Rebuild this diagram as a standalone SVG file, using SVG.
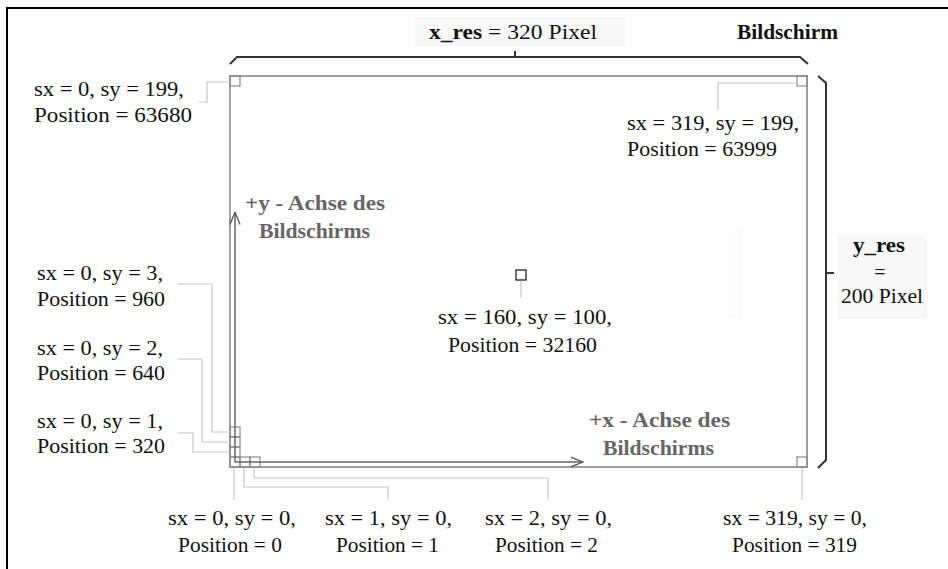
<svg xmlns="http://www.w3.org/2000/svg" width="948" height="569" viewBox="0 0 948 569">
<defs>
<style>
text{font-family:"Liberation Serif","Times New Roman",serif;font-size:20px;fill:#111}
.b{font-weight:bold}
.ax{font-weight:bold;fill:#666}
.lead{fill:none;stroke:#c8c8c8;stroke-width:1.2}
.cell{fill:none;stroke:#8a8a8a;stroke-width:1.2}
.brace{fill:none;stroke:#333;stroke-width:2}
.axis{fill:none;stroke:#666;stroke-width:1.5}
.box{fill:#f8f8f8}
</style>
<marker id="open" markerUnits="userSpaceOnUse" viewBox="0 0 13 12" markerWidth="13" markerHeight="12" refX="12.5" refY="6" orient="auto">
<path d="M0,1 L12.5,6 L0,11" fill="none" stroke="#555" stroke-width="1.3"/>
</marker>
</defs>
<rect x="0" y="0" width="948" height="569" fill="#fff"/>
<path d="M7,569 V8 H948" fill="none" stroke="#000" stroke-width="2"/>

<g id="screen">
<rect x="728" y="229" width="14" height="89" fill="#fcfcfc"/>
<rect x="230" y="76" width="577" height="391" fill="none" stroke="#a0a0a0" stroke-width="2"/>
<rect class="cell" x="230" y="76" width="10" height="10"/>
<rect class="cell" x="797" y="76" width="10" height="10"/>
<rect class="cell" x="797" y="457" width="10" height="10"/>
<rect class="cell" x="230" y="427" width="10" height="10"/>
<rect class="cell" x="230" y="437" width="10" height="10"/>
<rect class="cell" x="230" y="447" width="10" height="10"/>
<rect class="cell" x="230" y="457" width="10" height="10"/>
<rect class="cell" x="240" y="457" width="10" height="10"/>
<rect class="cell" x="250" y="457" width="10" height="10"/>
<rect x="516" y="270" width="10" height="10" fill="none" stroke="#222" stroke-width="1.3"/>
</g>

<g id="connectors">
<path class="brace" d="M230,64 L237,57 H800 L808,64 M515,57 V51"/>
<path class="brace" d="M818,76 L826,83 V460 L818,468 M826,273 H834"/>
<line class="axis" x1="235" y1="462" x2="235" y2="212" marker-end="url(#open)"/>
<line class="axis" x1="235" y1="462" x2="583" y2="462" marker-end="url(#open)"/>
<path class="lead" d="M199,102 H207 V82 H230"/>
<path class="lead" d="M718,110 V83 H797"/>
<path class="lead" d="M521,281 V298"/>
<path class="lead" d="M178,284 H212 V432 H230"/>
<path class="lead" d="M178,359 H202 V442 H230"/>
<path class="lead" d="M178,433 H193 V452 H230"/>
<path class="lead" d="M234,468 V500"/>
<path class="lead" d="M244,468 V487 H388 V500"/>
<path class="lead" d="M254,468 V478 H548 V500"/>
<path class="lead" d="M802,468 V500"/>
</g>

<g id="xres">
<rect class="box" x="415" y="17" width="210" height="29"/>
<text x="429" y="39" textLength="168" lengthAdjust="spacingAndGlyphs"><tspan class="b">x_res</tspan> = 320 Pixel</text>
</g>
<g id="title">
<text class="b" x="737" y="39" textLength="101" lengthAdjust="spacingAndGlyphs">Bildschirm</text>
</g>
<g id="yres">
<rect class="box" x="838" y="235" width="89" height="84"/>
<text class="b" x="879" y="252" text-anchor="middle" textLength="52" lengthAdjust="spacingAndGlyphs">y_res</text>
<text x="880" y="279" text-anchor="middle">=</text>
<text x="882" y="303" text-anchor="middle" textLength="82" lengthAdjust="spacingAndGlyphs">200 Pixel</text>
</g>

<g id="p-0-199">
<text x="34" y="96" textLength="150" lengthAdjust="spacingAndGlyphs">sx = 0, sy = 199,</text>
<text x="34" y="122" textLength="158" lengthAdjust="spacingAndGlyphs">Position = 63680</text>
</g>
<g id="p-319-199">
<text x="627" y="130" textLength="172" lengthAdjust="spacingAndGlyphs">sx = 319, sy = 199,</text>
<text x="627" y="156" textLength="150" lengthAdjust="spacingAndGlyphs">Position = 63999</text>
</g>
<g id="p-160-100">
<text x="438" y="324" textLength="174" lengthAdjust="spacingAndGlyphs">sx = 160, sy = 100,</text>
<text x="448" y="352" textLength="149" lengthAdjust="spacingAndGlyphs">Position = 32160</text>
</g>
<g id="p-0-3">
<text x="37" y="280" textLength="126" lengthAdjust="spacingAndGlyphs">sx = 0, sy = 3,</text>
<text x="37" y="306" textLength="128" lengthAdjust="spacingAndGlyphs">Position = 960</text>
</g>
<g id="p-0-2">
<text x="37" y="355" textLength="126" lengthAdjust="spacingAndGlyphs">sx = 0, sy = 2,</text>
<text x="37" y="380" textLength="128" lengthAdjust="spacingAndGlyphs">Position = 640</text>
</g>
<g id="p-0-1">
<text x="37" y="428" textLength="126" lengthAdjust="spacingAndGlyphs">sx = 0, sy = 1,</text>
<text x="37" y="453" textLength="128" lengthAdjust="spacingAndGlyphs">Position = 320</text>
</g>
<g id="p-0-0">
<text x="168" y="525" textLength="128" lengthAdjust="spacingAndGlyphs">sx = 0, sy = 0,</text>
<text x="178" y="552" textLength="104" lengthAdjust="spacingAndGlyphs">Position = 0</text>
</g>
<g id="p-1-0">
<text x="325" y="525" textLength="127" lengthAdjust="spacingAndGlyphs">sx = 1, sy = 0,</text>
<text x="336" y="552" textLength="103" lengthAdjust="spacingAndGlyphs">Position = 1</text>
</g>
<g id="p-2-0">
<text x="485" y="525" textLength="127" lengthAdjust="spacingAndGlyphs">sx = 2, sy = 0,</text>
<text x="495" y="552" textLength="103" lengthAdjust="spacingAndGlyphs">Position = 2</text>
</g>
<g id="p-319-0">
<text x="723" y="525" textLength="144" lengthAdjust="spacingAndGlyphs">sx = 319, sy = 0,</text>
<text x="732" y="552" textLength="125" lengthAdjust="spacingAndGlyphs">Position = 319</text>
</g>
<g id="y-axis-label">
<text class="ax" x="245" y="210" textLength="140" lengthAdjust="spacingAndGlyphs">+y - Achse des</text>
<text class="ax" x="259" y="238" textLength="111" lengthAdjust="spacingAndGlyphs">Bildschirms</text>
</g>
<g id="x-axis-label">
<text class="ax" x="589" y="427" textLength="141" lengthAdjust="spacingAndGlyphs">+x - Achse des</text>
<text class="ax" x="603" y="455" textLength="111" lengthAdjust="spacingAndGlyphs">Bildschirms</text>
</g>
</svg>
